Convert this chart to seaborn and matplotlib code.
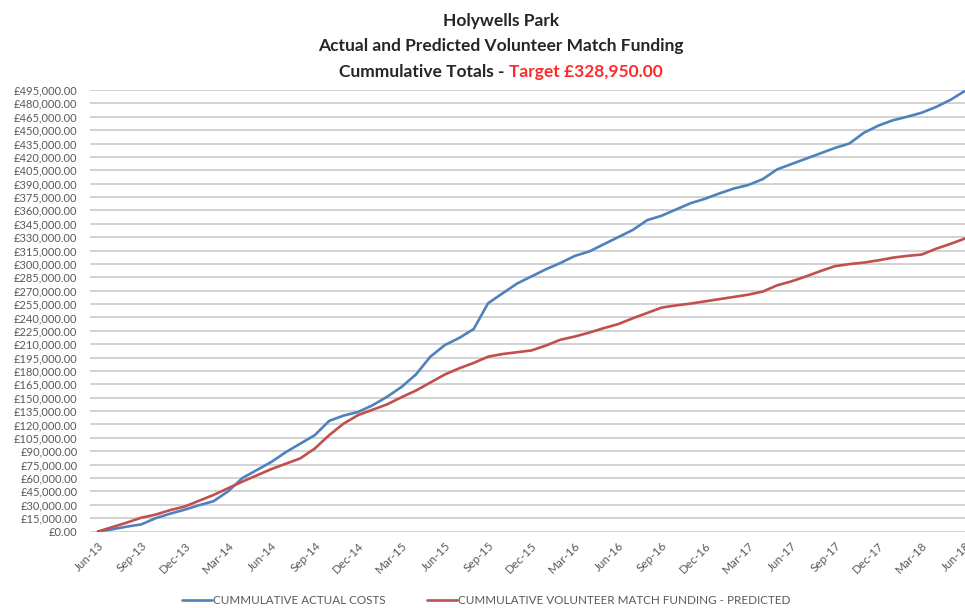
import numpy as np
import pandas as pd
import seaborn as sns
import matplotlib.pyplot as plt

# monthly cumulative totals, Jun-13 .. Jun-18
actual_costs = [
    0, 2500, 5500, 8000, 15000, 20000, 24500, 29500, 34000, 45000,
    60000, 69000, 78000, 89000, 98500, 108000, 124000, 130000, 134000, 141500,
    151000, 162000, 176000, 196000, 209000, 217000, 227000, 256000, 267000, 278000,
    286000, 294000, 301000, 309000, 314000, 322000, 330000, 338000, 349000, 354000,
    361000, 368000, 373000, 379000, 384500, 388500, 395000, 406000, 412000, 418000,
    424000, 430000, 435000, 447000, 455000, 461000, 465000, 469500, 476000, 484000,
    494000,
]
predicted_funding = [
    0, 5000, 10000, 15500, 19000, 24000, 28000, 34500, 41000, 48500,
    56000, 63000, 70000, 76000, 82000, 93000, 108000, 121000, 130500, 136500,
    142500, 150500, 158000, 167000, 176000, 183000, 189000, 196000, 199000, 201000,
    203000, 208500, 215000, 218600, 223000, 228000, 232500, 239000, 245000, 251000,
    253500, 255500, 258000, 260500, 263000, 265500, 269000, 276000, 280500, 286000,
    292000, 297500, 299800, 301500, 304000, 307000, 309000, 310500, 317000, 322500,
    328500,
]
tick_labels = [
    "Jun-13", "Sep-13", "Dec-13", "Mar-14", "Jun-14", "Sep-14", "Dec-14",
    "Mar-15", "Jun-15", "Sep-15", "Dec-15", "Mar-16", "Jun-16", "Sep-16",
    "Dec-16", "Mar-17", "Jun-17", "Sep-17", "Dec-17", "Mar-18", "Jun-18",
]
series_names = ["CUMMULATIVE ACTUAL COSTS", "CUMMULATIVE VOLUNTEER MATCH FUNDING - PREDICTED"]

sns.set_style("white")
plt.rcParams["font.family"] = ["Lato", "DejaVu Sans"]

grey = "#595959"

fig = plt.figure(figsize=(9.65, 6.08), dpi=100)
ax = fig.add_axes([0.0933, 0.1258, 0.9067, 0.7262])

df = pd.DataFrame({
    "month": np.arange(len(actual_costs)),
    series_names[0]: actual_costs,
    series_names[1]: predicted_funding,
})
long = df.melt(id_vars="month", var_name="series", value_name="total")

sns.lineplot(data=long, x="month", y="total", hue="series", hue_order=series_names,
             palette=["#4F81BD", "#C0504D"], linewidth=1.9, ax=ax)

# axes
ax.set_xlim(-0.55, 59.9)
ax.set_ylim(0, 495000)
yt = np.arange(0, 495001, 15000)
ax.set_yticks(yt)
ax.set_yticklabels([f"£{v:,.2f}" for v in yt])
ax.set_xticks(np.arange(0, 61, 3))
ax.set_xticklabels(tick_labels, rotation=45, ha="right", rotation_mode="anchor")
ax.tick_params(axis="both", length=0, labelcolor=grey)
ax.tick_params(axis="y", pad=9, labelsize=8)
ax.tick_params(axis="x", pad=6, labelsize=8.5)
ax.set_xlabel("")
ax.set_ylabel("")
ax.yaxis.grid(True, color="#cfcfcf", linewidth=1.3)
ax.set_axisbelow(True)
sns.despine(ax=ax, left=True, bottom=True)

sns.move_legend(ax, "center", bbox_to_anchor=(0.453, -0.157), ncol=2, frameon=False,
                title=None, fontsize=8.4, handlelength=2.6, handletextpad=0.1,
                columnspacing=3.5)
for t in ax.get_legend().get_texts():
    t.set_color(grey)

# title, three lines, last one in two colours
cx = 0.519
tsize = 12.5
fig.text(cx, 1 - 21 / 608, "Holywells Park", ha="center", va="center",
         fontsize=tsize, fontweight="bold")
fig.text(cx, 1 - 46 / 608, "Actual and Predicted Volunteer Match Funding", ha="center",
         va="center", fontsize=tsize, fontweight="bold")
y3 = 1 - 72 / 608
p1 = fig.text(0, y3, "Cummulative Totals - ", ha="left", va="center",
              fontsize=tsize, fontweight="bold")
p2 = fig.text(0, y3, "Target £328,950.00", ha="left", va="center",
              fontsize=tsize, fontweight="bold", color="#FF2A2A")
fig.canvas.draw()
w1 = p1.get_window_extent().width / fig.bbox.width
w2 = p2.get_window_extent().width / fig.bbox.width
start = cx - (w1 + w2) / 2
p1.set_x(start)
p2.set_x(start + w1)

fig.savefig("out.png", dpi=100)
